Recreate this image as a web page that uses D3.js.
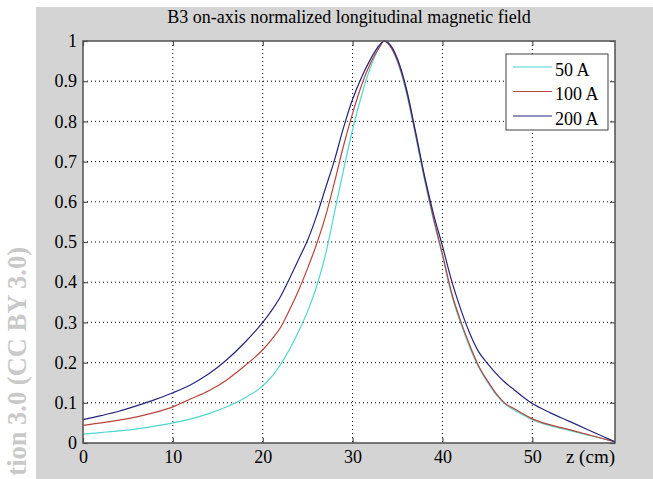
<!DOCTYPE html>
<html>
<head>
<meta charset="utf-8">
<script src="https://cdn.jsdelivr.net/npm/d3@7"></script>
<style>
  body { margin: 0; background: #fff; }
  svg { display: block; font-family: "Liberation Serif", "Times New Roman", serif; }
  .tick text { font-size: 18px; fill: #000; }
</style>
</head>
<body>
<script>
// field samples (z in cm, normalized Bz)
const zValues = [0, 2, 4, 6, 8, 10, 12, 14, 16, 18, 20, 21, 22, 23, 24, 25, 26, 27, 28, 29, 30, 31, 32, 33, 33.5,
    34, 35, 36, 37, 38, 39, 40, 41, 42, 43, 44, 45, 46, 47, 48, 50, 52, 54, 56, 58, 59.2];
const field200 = [.058, .068, .079, .093, .108, .125, .145, .172, .207, .250, .300, .330, .365, .410, .457, .505, .565, .635, .705, .785, .855, .910, .955, .990, 1,
    .995, .955, .880, .775, .665, .570, .490, .405, .335, .275, .228, .198, .172, .150, .132, .098, .075, .055, .035, .015, .003];
const field100 = [.044, .050, .057, .065, .076, .090, .110, .130, .157, .192, .232, .258, .288, .332, .380, .435, .495, .565, .650, .740, .820, .890, .945, .985, 1,
    .992, .950, .875, .770, .660, .560, .470, .375, .305, .245, .193, .155, .122, .098, .085, .060, .045, .034, .022, .010, .003];
const field50 = [.022, .026, .030, .035, .042, .050, .060, .073, .090, .112, .142, .165, .196, .234, .278, .328, .390, .470, .575, .680, .780, .865, .935, .985, 1,
    .992, .948, .870, .765, .655, .555, .465, .370, .300, .240, .190, .152, .120, .096, .082, .058, .043, .032, .021, .010, .003];

const seriesNames = ["50 A", "100 A", "200 A"];
const seriesColors = ["#4fd6cf", "#b8443c", "#26267a"];
const xTicks = [0, 10, 20, 30, 40, 50];
const yTicks = [0, 0.1, 0.2, 0.3, 0.4, 0.5, 0.6, 0.7, 0.8, 0.9, 1];
const yTickLabels = ["0", "0.1", "0.2", "0.3", "0.4", "0.5", "0.6", "0.7", "0.8", "0.9", "1"];

const width = 653;
const height = 479;
const plotLeft = 83, plotRight = 615, plotTop = 41, plotBottom = 443;
const frameColor = "#505050";

const svg = d3.select("body")
    .append("svg")
    .attr("width", width)
    .attr("height", height);

// figure background
svg.append("rect")
    .attr("x", 36)
    .attr("y", 7)
    .attr("width", width - 36)
    .attr("height", height - 7)
    .attr("fill", "#d4d4d4");

svg.append("text")
    .attr("transform", "translate(26,247) rotate(-90)")
    .attr("text-anchor", "end")
    .style("font-size", "26.5px")
    .style("font-weight", "bold")
    .attr("fill", "#c9c9c9")
    .text("tion 3.0 (CC BY 3.0)");

const scaleX = d3.scaleLinear().domain([0, 59.2]).range([plotLeft, plotRight]);
const scaleY = d3.scaleLinear().domain([0, 1]).range([plotBottom, plotTop]);

svg.append("rect")
    .attr("x", plotLeft)
    .attr("y", plotTop)
    .attr("width", plotRight - plotLeft)
    .attr("height", plotBottom - plotTop)
    .attr("fill", "#fff");

// dotted grid
svg.append("g")
    .selectAll("line")
    .data(xTicks.slice(1))
    .enter()
    .append("line")
    .attr("x1", d => scaleX(d))
    .attr("x2", d => scaleX(d))
    .attr("y1", plotTop)
    .attr("y2", plotBottom)
    .attr("stroke", "#000")
    .attr("stroke-dasharray", "1,3");

svg.append("g")
    .selectAll("line")
    .data(yTicks.slice(1, -1))
    .enter()
    .append("line")
    .attr("x1", plotLeft)
    .attr("x2", plotRight)
    .attr("y1", d => scaleY(d))
    .attr("y2", d => scaleY(d))
    .attr("stroke", "#000")
    .attr("stroke-dasharray", "1,3");

const line = d3.line()
    .x((d, i) => scaleX(zValues[i]))
    .y(d => scaleY(d))
    .curve(d3.curveMonotoneX);

[field50, field100, field200].forEach((s, i) => {
    svg.append("path")
        .attr("d", line(s))
        .attr("fill", "none")
        .attr("stroke", seriesColors[i])
        .attr("stroke-width", 1.2);
});

// axes with inward ticks
const axes = [
    [d3.axisBottom(scaleX).tickValues(xTicks).tickPadding(7), `translate(0,${plotBottom})`],
    [d3.axisTop(scaleX).tickValues(xTicks).tickFormat(""), `translate(0,${plotTop})`],
    [d3.axisLeft(scaleY).tickValues(yTicks).tickFormat((d, i) => yTickLabels[i]).tickPadding(6), `translate(${plotLeft},0)`],
    [d3.axisRight(scaleY).tickValues(yTicks).tickFormat(""), `translate(${plotRight},0)`]
];
axes.forEach(([axis, tr]) => {
    const g = svg.append("g")
        .attr("transform", tr)
        .call(axis.tickSizeInner(-5).tickSizeOuter(0));
    g.select(".domain").remove();
    g.selectAll(".tick line").attr("stroke", frameColor).attr("stroke-width", 1.2);
    g.attr("font-family", null).attr("font-size", null);
});

svg.append("rect")
    .attr("x", plotLeft)
    .attr("y", plotTop)
    .attr("width", plotRight - plotLeft)
    .attr("height", plotBottom - plotTop)
    .attr("fill", "none")
    .attr("stroke", frameColor)
    .attr("stroke-width", 1.5);

svg.append("text")
    .attr("x", (plotLeft + plotRight) / 2)
    .attr("y", 23)
    .attr("text-anchor", "middle")
    .style("font-size", "18px")
    .text("B3 on-axis normalized longitudinal magnetic field");

svg.append("text")
    .attr("x", plotRight)
    .attr("y", 463)
    .attr("text-anchor", "end")
    .style("font-size", "19px")
    .text("z (cm)");

// legend
const legend = svg.append("g")
    .attr("transform", "translate(506,54)");

legend.append("rect")
    .attr("width", 102)
    .attr("height", 76)
    .attr("fill", "#fff")
    .attr("stroke", "#404040");

seriesNames.forEach((name, i) => {
    legend.append("line")
        .attr("x1", 7)
        .attr("x2", 46)
        .attr("y1", 13 + i * 24.5)
        .attr("y2", 13 + i * 24.5)
        .attr("stroke", seriesColors[i])
        .attr("stroke-width", 1.2);
    legend.append("text")
        .attr("x", 49)
        .attr("y", 21.5 + i * 24.5)
        .style("font-size", "18px")
        .text(name);
});
</script>
</body>
</html>
